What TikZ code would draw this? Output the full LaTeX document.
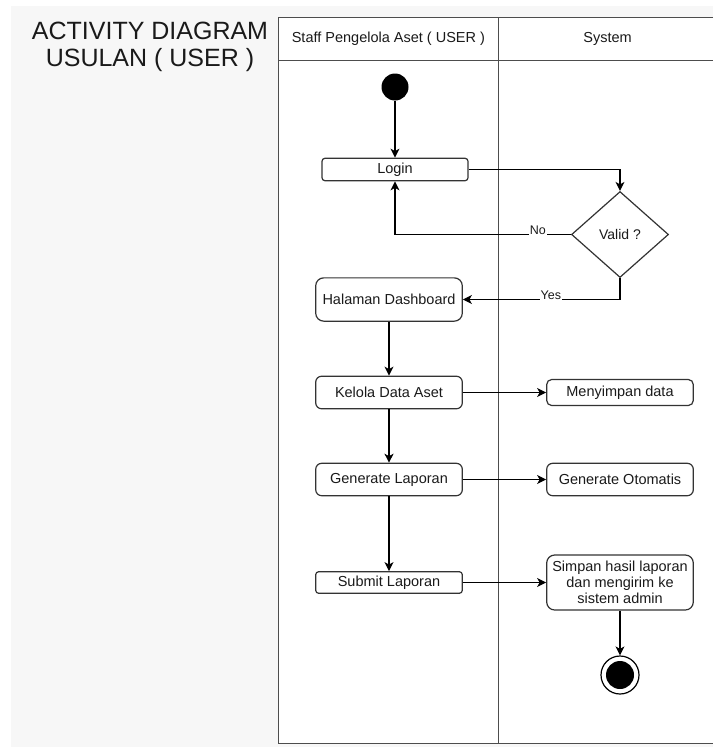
\documentclass[tikz,border=0pt]{standalone}
\usepackage{fontspec}
\setmainfont{Liberation Sans}
\usetikzlibrary{shapes.geometric,arrows.meta}
\definecolor{pagegrey}{HTML}{F7F7F7}
\definecolor{laneline}{HTML}{4D4D4D}
\definecolor{boxline}{HTML}{333333}
\definecolor{ink}{HTML}{1A1A1A}
\begin{document}
\begin{tikzpicture}[x=1pt,y=-1pt,
  font=\fontsize{14.5}{16}\selectfont,
  every node/.style={text=ink},
  act/.style={draw=boxline,line width=1.2pt,fill=white,minimum width=146.6pt,
    inner sep=0pt,align=center},
  flow/.style={-{Stealth[length=9pt,width=9pt,inset=2.5pt]},line width=1.2pt,draw=black},
  guard/.style={fill=white,inner sep=0.8pt,yshift=4pt,font=\fontsize{12.5}{14}\selectfont},
  lane/.style={draw=laneline,line width=1.6pt}
]
\useasboundingbox (0,0) rectangle (713,747);
\fill[white] (0,0) rectangle (713,747);
\fill[pagegrey] (11,6) rectangle (713,747);

% title (base anchor sits on the second line)
\node[align=center,anchor=base,font=\fontsize{25}{27}\selectfont] (title) at (150,66)
  {ACTIVITY DIAGRAM\\USULAN ( USER )};

% swimlanes
\fill[white] (278.5,17.5) rectangle (713,743.5);
\draw[lane] (713,17.5) -- (278.5,17.5) -- (278.5,743.5) -- (713,743.5);
\draw[lane] (278.5,60.5) -- (713,60.5);
\draw[lane] (498.3,17.5) -- (498.3,743.5);
\node (hdrstaff) at (388.4,39) {Staff Pengelola Aset ( USER )};
\node (hdrsys) at (607.5,39) {System};

% activities
\node[circle,fill=black,minimum size=27pt,inner sep=0pt] (start) at (395,87) {};
\node[act,minimum width=146pt,minimum height=22.5pt,rounded corners=3pt] (login) at (395,169.5) {Login};
\node[diamond,draw=boxline,fill=white,line width=1.2pt,minimum width=97pt,minimum height=86pt,
  inner sep=0pt,font=\fontsize{14}{16}\selectfont] (valid) at (620,234.5) {Valid ?};
\node[act,minimum height=43.3pt,rounded corners=8pt] (dash) at (389,299.5) {Halaman Dashboard};
\node[act,minimum height=32.6pt,rounded corners=6pt] (kelola) at (389,392.5) {Kelola Data Aset};
\node[act,minimum height=26pt,rounded corners=5pt] (simpdata) at (620,392.5) {Menyimpan data};
\node[act,minimum height=32.4pt,rounded corners=6pt] (genlap) at (389,479.5) {Generate Laporan};
\node[act,minimum height=32.4pt,rounded corners=6pt] (genoto) at (620,479.5) {Generate Otomatis};
\node[act,minimum height=21.6pt,rounded corners=3pt] (submit) at (389,582.5) {Submit Laporan};
\node[act,minimum height=55pt,rounded corners=8pt] (simpan) at (620,582.5)
  {Simpan hasil laporan\\dan mengirim ke\\sistem admin};
\node[circle,draw=black,line width=1.2pt,fill=white,minimum size=38pt,inner sep=0pt,
  path picture={\fill[black] (path picture bounding box.center) circle (14pt);}] (final) at (620,675) {};

% flows
\draw[flow] (start) -- (login);
\draw[flow] (login.east) -| (valid.north);
\draw[flow] (valid.west) -- ++(-33,0) node[guard] {No} -| (login.south);
\draw[flow] (valid.south) |- node[guard,pos=0.72] {Yes} (dash.east);
\draw[flow] (dash) -- (kelola);
\draw[flow] (kelola) -- (simpdata);
\draw[flow] (kelola) -- (genlap);
\draw[flow] (genlap) -- (genoto);
\draw[flow] (genlap) -- (submit);
\draw[flow] (submit) -- (simpan);
\draw[flow] (simpan) -- (final);
\end{tikzpicture}
\end{document}
